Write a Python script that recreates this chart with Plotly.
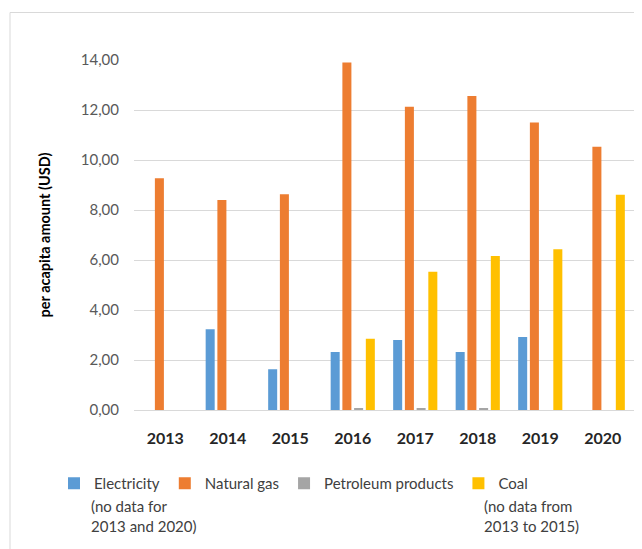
import plotly.graph_objects as go

years = ["2013", "2014", "2015", "2016", "2017", "2018", "2019", "2020"]
electricity = [None, 3.23, 1.63, 2.32, 2.80, 2.32, 2.92, None]
natural_gas = [9.27, 8.40, 8.63, 13.90, 12.13, 12.56, 11.50, 10.53]
petroleum = [None, None, None, 0.08, 0.08, 0.08, None, None]
coal = [None, None, None, 2.85, 5.53, 6.16, 6.43, 8.61]

series = [
    ("Electricity", electricity, "#5B9BD5"),
    ("Natural gas", natural_gas, "#ED7D31"),
    ("Petroleum products", petroleum, "#A5A5A5"),
    ("Coal", coal, "#FFC000"),
]

OFF = 8  # default body margin of the html page
W, H = 642 - OFF, 549 - OFF
# plot area in page coords: x 134..634, y 60..410
L, T = 134 - OFF, 60 - OFF
R = W - (634 - OFF)
B = H - (410 - OFF)
PW, PH = W - L - R, H - T - B

def xp(px):  # page px -> paper
    return (px - OFF - L) / PW

def yp(py):
    return (H - B - (py - OFF)) / PH

FONT = "Lato, 'Open Sans', sans-serif"

fig = go.Figure()
for name, vals, color in series:
    fig.add_trace(go.Bar(x=years, y=vals, name=name, marker=dict(color=color, line=dict(width=0))))

fig.update_layout(
    width=W, height=H,
    margin=dict(l=L, r=R, t=T, b=B, autoexpand=False),
    paper_bgcolor="white", plot_bgcolor="white",
    barmode="group", bargap=0.25, bargroupgap=0.23,
    separators=",.",
    font=dict(family=FONT, size=15, color="#595959"),
    showlegend=True,
    legend=dict(orientation="h", x=xp(54), xanchor="left", y=yp(467), yanchor="top",
                font=dict(family=FONT, size=15, color="#404040"), traceorder="normal",
                bgcolor="rgba(0,0,0,0)"),
    xaxis=dict(type="category", showline=True, linecolor="#d9d9d9", linewidth=1,
               ticks="", ticklabelstandoff=14,
               tickfont=dict(family=FONT, size=16, color="#262626", weight="bold"),
               showgrid=False, zeroline=False),
    yaxis=dict(range=[0, 14], dtick=2, tickformat=".2f", showgrid=True, gridcolor="#d9d9d9",
               gridwidth=1, zeroline=False, ticks="", ticklabelstandoff=14,
               tickfont=dict(family=FONT, size=15, color="#595959"),
               title=dict(text="<b>per acapita amount (USD)</b>", standoff=26,
                          font=dict(family=FONT, size=14.5, color="#000000"))),
)

fig.add_annotation(x=xp(89), y=yp(495), xref="paper", yref="paper", xanchor="left", yanchor="top",
                   text="(no data for<br>2013 and 2020)", showarrow=False, align="left",
                   font=dict(family=FONT, size=15, color="#404040"))
fig.add_annotation(x=xp(482), y=yp(495), xref="paper", yref="paper", xanchor="left", yanchor="top",
                   text="(no data from<br>2013 to 2015)", showarrow=False, align="left",
                   font=dict(family=FONT, size=15, color="#404040"))

# chart-area border (top and left)
fig.add_shape(type="line", xref="paper", yref="paper", x0=xp(10), x1=xp(660), y0=yp(12.5), y1=yp(12.5),
              line=dict(color="#d9d9d9", width=1))
fig.add_shape(type="line", xref="paper", yref="paper", x0=xp(10), x1=xp(10), y0=yp(12.5), y1=yp(560),
              line=dict(color="#d9d9d9", width=1))

fig.write_html("out.html")
